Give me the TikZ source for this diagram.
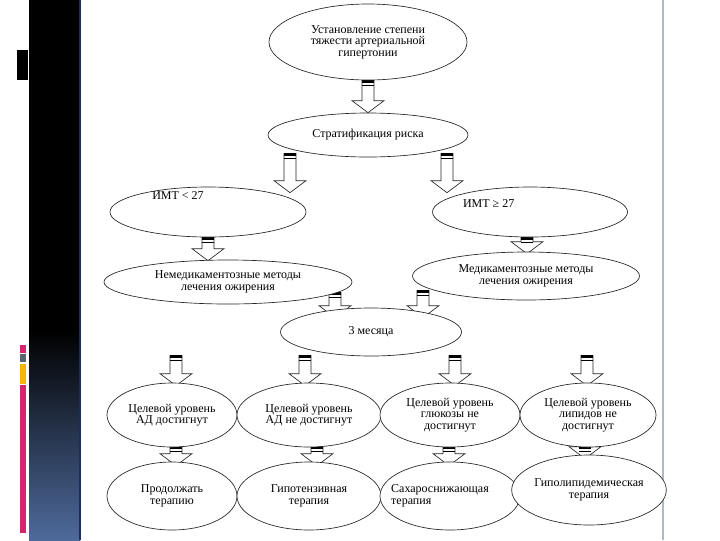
\documentclass[tikz,border=0pt]{standalone}
\usepackage{fontspec}
\setmainfont{Liberation Serif}
\usetikzlibrary{shapes.geometric,calc}
\definecolor{bandblue}{HTML}{4E6A9C}
\definecolor{bandedge}{HTML}{1E2C5C}
\definecolor{barpink}{HTML}{D6246E}
\definecolor{bargray}{HTML}{5A6470}
\definecolor{baryellow}{HTML}{F2B705}
\definecolor{frameline}{HTML}{AEB8C8}
\pgfdeclarelayer{back}
\pgfdeclarelayer{arr}
\pgfsetlayers{back,arr,main}

\newcommand\hollowarrow[2]{%
  \draw[blockarr] let \p1=(#1), \p2=(#2) in
    (\x1-4.5pt,\y1) -- (\x1+4.5pt,\y1) -- (\x1+4.5pt,\y2+9pt) -- (\x1+12pt,\y2+9pt)
    -- (\x1,\y2) -- (\x1-12pt,\y2+9pt) -- (\x1-4.5pt,\y2+9pt) -- cycle;
  \fill let \p1=(#1) in (\x1-4.5pt,\y1) rectangle (\x1+4.5pt,\y1-2.2pt);
  \draw[line width=0.4pt] let \p1=(#1) in (\x1-4.5pt,\y1-3.4pt) -- (\x1+4.5pt,\y1-3.4pt);}

\begin{document}
\begin{tikzpicture}[x=0.75pt,y=-0.75pt,
  ell/.style={ellipse,draw=black!85,line width=0.5pt,fill=white,inner sep=0pt,align=center,
    font=\fontsize{9}{8.6}\selectfont},
  blockarr/.style={draw=black!85,line width=0.5pt,fill=white},
  every label/.style={inner sep=0pt,align=left,font=\fontsize{9}{8.6}\selectfont}]
\useasboundingbox (0,0) rectangle (720,540);

\begin{pgfonlayer}{back}
\fill[white] (0,0) rectangle (720,540);
\fill[black] (29,0) rectangle (80,330);
\shade[top color=black,bottom color=bandblue] (29,330) rectangle (80,540);
\draw[bandedge,line width=1pt] (80,0) -- (80,540);
\draw[frameline,line width=0.8pt] (663,0) -- (663,540);
\fill[black] (17,50) rectangle (28,80);
\fill[barpink] (20,345) rectangle (26,353);
\fill[bargray] (20,354) rectangle (26,362);
\fill[baryellow] (20,364) rectangle (26,384);
\fill[barpink] (20,385) rectangle (26,533);
\end{pgfonlayer}

\node[ell,minimum width=148.5pt,minimum height=57pt] (sev) at (368,42)
  {Установление степени\\тяжести артериальной\\гипертонии};
\node[ell,minimum width=150pt,minimum height=33pt] (strat) at (368,135) {Стратификация риска};
\node[ell,minimum width=147pt,minimum height=37.5pt,
  label={[xshift=-22.5pt,yshift=12pt]center:ИМТ < 27}] (bmiL) at (208,212) {};
\node[ell,minimum width=146.25pt,minimum height=37.5pt,
  label={[xshift=-31pt,yshift=6pt]center:ИМТ ≥ 27}] (bmiR) at (530,212) {};
\node[ell,minimum width=186pt,minimum height=33pt] (nonmed) at (228,282)
  {Немедикаментозные методы\\лечения ожирения};
\node[ell,minimum width=170.25pt,minimum height=36pt] (med) at (526,276)
  {Медикаментозные методы\\лечения ожирения};
\node[ell,minimum width=135.75pt,minimum height=36pt] (months) at (371,332) {3 месяца};

\node[ell,minimum width=97.5pt,minimum height=48pt] (goalA) at (172,415)
  {Целевой уровень\\АД достигнут};
\node[ell,minimum width=108pt,minimum height=48pt] (goalB) at (309,415)
  {Целевой уровень\\АД не достигнут};
\node[ell,minimum width=105pt,minimum height=48pt] (goalC) at (450,415)
  {Целевой уровень\\глюкозы не\\достигнут};
\node[ell,minimum width=102pt,minimum height=48pt] (goalD) at (588,415)
  {Целевой уровень\\липидов не\\достигнут};

\node[ell,minimum width=97.5pt,minimum height=51pt] (doneA) at (172,496)
  {Продолжать\\терапию};
\node[ell,minimum width=108pt,minimum height=51pt] (doneB) at (309,496)
  {Гипотензивная\\терапия};
\node[ell,minimum width=105pt,minimum height=51pt,
  label={[xshift=-7.5pt]center:Сахароснижающая\\терапия}] (doneC) at (450,496) {};
\node[ell,minimum width=102pt,minimum height=52.5pt] (doneD) at (589,490)
  {Гиполипидемическая\\терапия};

\begin{pgfonlayer}{arr}
\hollowarrow{sev.south}{strat.north}
\hollowarrow{$(strat.south)+(-78,-4)$}{$(bmiL.north)+(0,6)$}
\hollowarrow{$(strat.south)+(79,-4)$}{$(bmiR.north)+(0,6)$}
\hollowarrow{bmiL.south}{$(nonmed.north)+(0,1)$}
\hollowarrow{$(bmiR.south)+(-3,0)$}{$(med.north)+(0,2)$}
\hollowarrow{$(nonmed.south)+(107,-12)$}{$(months.north)+(0,10)$}
\hollowarrow{$(med.south)+(-103,-10)$}{$(months.north)+(0,10)$}
\foreach \dx/\g in {-195/goalA,-66/goalB,84/goalC,216/goalD}
  {\hollowarrow{$(months.south)+(\dx,-1)$}{$(\g.north)+(0,3)$}}
\foreach \dx/\g/\t in {4/goalA/doneA,8/goalB/doneB,-1/goalC/doneC,-3/goalD/doneD}
  {\hollowarrow{$(\g.south)+(\dx,-1)$}{$(\t.north)+(0,4)$}}
\end{pgfonlayer}
\end{tikzpicture}
\end{document}
